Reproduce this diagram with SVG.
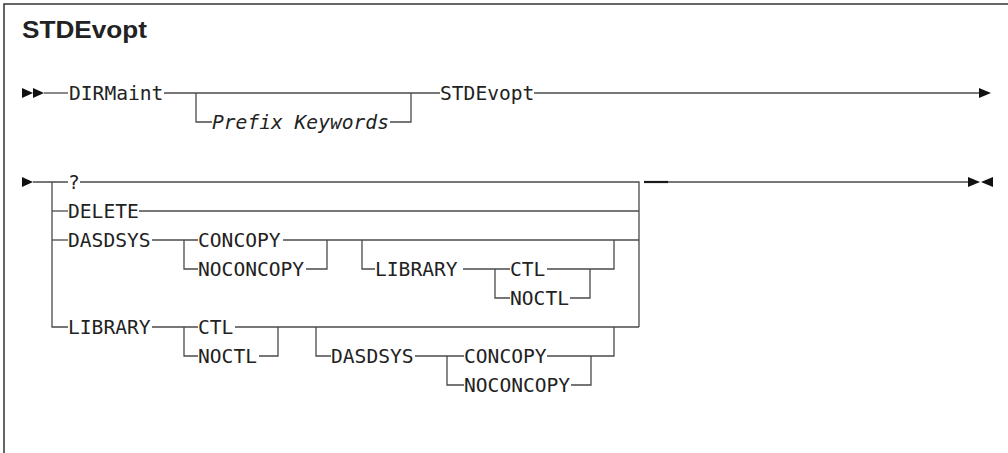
<svg xmlns="http://www.w3.org/2000/svg" width="1008" height="453" viewBox="0 0 1008 453">
<style>
.frame{fill:none;stroke:#333;stroke-width:1.5}
.rail{fill:none;stroke:#4a4a4a;stroke-width:1.3}
.thick{fill:none;stroke:#1a1a1a;stroke-width:2.2}
.mark{fill:#111}
.t{font-family:"DejaVu Sans Mono","Liberation Mono",monospace;font-size:19.6px;fill:#222}
.it{font-style:italic}
.title{font-family:"Liberation Sans",Arial,sans-serif;font-weight:bold;font-size:24.5px;fill:#222}
</style>
<rect width="1008" height="453" fill="#fff"/>
<path class="frame" d="M4 453 V4 H1008"/>
<text class="title" x="22" y="38" textLength="125" lengthAdjust="spacingAndGlyphs">STDEvopt</text>
<g id="connectors">
<polygon class="mark" points="22,88 33,93 22,98"/>
<polygon class="mark" points="33,88 44,93 33,98"/>
<path class="rail" d="M44 93 H68"/>
<path class="rail" d="M164 93 H440"/>
<path class="rail" d="M196 93 V122 H212"/>
<path class="rail" d="M390 122 H411 V93"/>
<path class="rail" d="M534 93 H979"/>
<polygon class="mark" points="979,88 991,93 979,98"/>
<polygon class="mark" points="22,177 33,182 22,187"/>
<path class="rail" d="M33 182 H68"/>
<path class="rail" d="M52 182 V327 H68"/>
<path class="rail" d="M52 211 H68"/>
<path class="rail" d="M52 240 H68"/>
<path class="rail" d="M80 182 H639 V327"/>
<path class="rail" d="M139 211 H639"/>
<path class="rail" d="M152 240 H198"/>
<path class="rail" d="M184 240 V269 H198"/>
<path class="rail" d="M283 240 H639"/>
<path class="rail" d="M306 269 H327 V240"/>
<path class="rail" d="M362 240 V269 H375"/>
<path class="rail" d="M463 269 H510"/>
<path class="rail" d="M495 269 V298 H510"/>
<path class="rail" d="M547 269 H614 V240"/>
<path class="rail" d="M570 298 H590 V269"/>
<path class="rail" d="M152 327 H198"/>
<path class="rail" d="M184 327 V356 H198"/>
<path class="rail" d="M235 327 H639"/>
<path class="rail" d="M259 356 H278 V327"/>
<path class="rail" d="M316 327 V356 H331"/>
<path class="rail" d="M415 356 H464"/>
<path class="rail" d="M447 356 V385 H464"/>
<path class="rail" d="M547 356 H614 V327"/>
<path class="rail" d="M571 385 H591 V356"/>
<path class="thick" d="M644 182 H668"/>
<path class="rail" d="M668 182 H968"/>
<polygon class="mark" points="968,177 980,182 968,187"/>
<polygon class="mark" points="993,177 981,182 993,187"/>
</g>
<g id="n-dirmaint"><text class="t" x="69" y="100">DIRMaint</text></g>
<g id="n-prefix"><text class="t it" x="212" y="129">Prefix Keywords</text></g>
<g id="n-stdevopt"><text class="t" x="440" y="100">STDEvopt</text></g>
<g id="n-q"><text class="t" x="68" y="189">?</text></g>
<g id="n-delete"><text class="t" x="68" y="218">DELETE</text></g>
<g id="n-dasdsys1"><text class="t" x="68" y="247">DASDSYS</text></g>
<g id="n-concopy1"><text class="t" x="198" y="247">CONCOPY</text></g>
<g id="n-noconcopy1"><text class="t" x="198" y="276">NOCONCOPY</text></g>
<g id="n-library1"><text class="t" x="375" y="276">LIBRARY</text></g>
<g id="n-ctl1"><text class="t" x="510" y="276">CTL</text></g>
<g id="n-noctl1"><text class="t" x="510" y="305">NOCTL</text></g>
<g id="n-library2"><text class="t" x="68" y="334">LIBRARY</text></g>
<g id="n-ctl2"><text class="t" x="198" y="334">CTL</text></g>
<g id="n-noctl2"><text class="t" x="198" y="363">NOCTL</text></g>
<g id="n-dasdsys2"><text class="t" x="331" y="363">DASDSYS</text></g>
<g id="n-concopy2"><text class="t" x="464" y="363">CONCOPY</text></g>
<g id="n-noconcopy2"><text class="t" x="464" y="392">NOCONCOPY</text></g>
</svg>
